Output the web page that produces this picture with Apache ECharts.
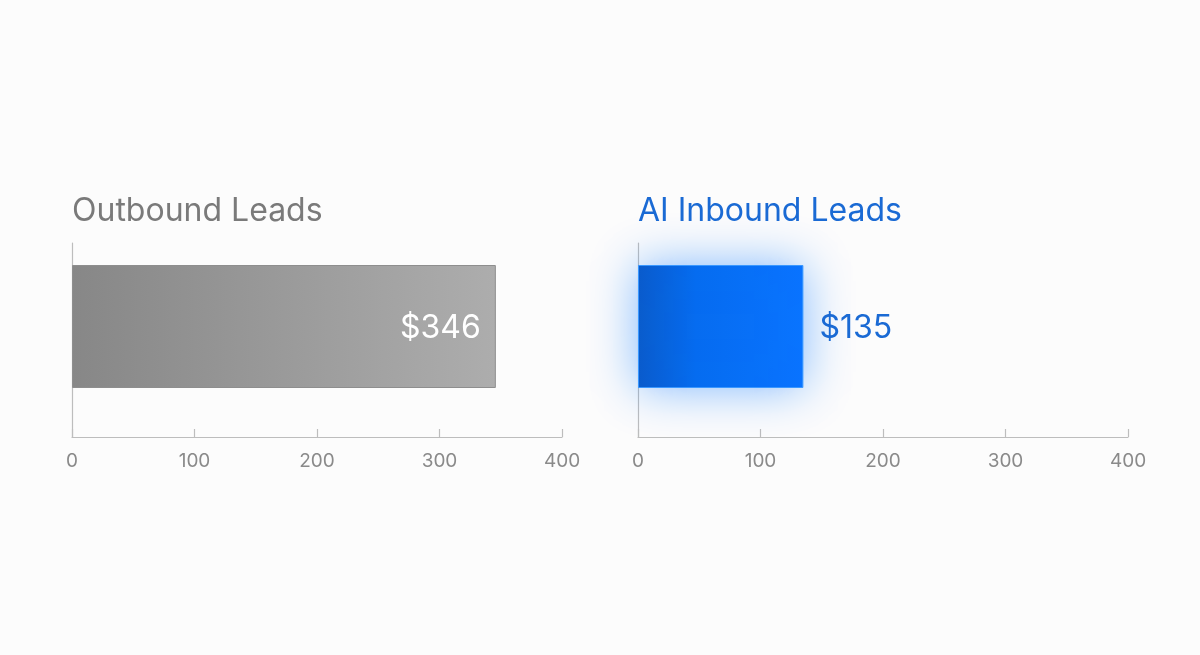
<!DOCTYPE html>
<html>
<head>
<meta charset="utf-8">
<script src="https://cdn.jsdelivr.net/npm/echarts@6/dist/echarts.min.js"></script>
<style>
html,body{margin:0;padding:0;background:#fcfcfc;}
#c{width:1200px;height:655px;}
</style>
</head>
<body>
<div id="c"></div>
<script>
const panelTitles = ['Outbound Leads', 'AI Inbound Leads'];
const costValues = [346, 135];
const axisTicks = [0, 100, 200, 300, 400];
const axisMin = 0, axisMax = 400, axisStep = 100;

const FONT = 'Inter, "Noto Sans", sans-serif';
const chart = echarts.init(document.getElementById('c'), null, {renderer: 'canvas'});

const gridLefts = [72, 638];
const grids = gridLefts.map(l => ({left: l, width: 490, top: 243, height: 194, containLabel: false}));

const xAxes = grids.map((g, i) => ({
  type: 'value', gridIndex: i, min: axisMin, max: axisMax, interval: axisStep,
  axisLine: {show: true, lineStyle: {color: '#bdbdbd', width: 1.2}},
  axisTick: {show: true, inside: true, length: 8, lineStyle: {color: '#bdbdbd', width: 1.2}},
  axisLabel: {color: '#8a8a8a', fontSize: 19, fontFamily: FONT, margin: 15,
    formatter: v => axisTicks.includes(v) ? String(v) : ''},
  splitLine: {show: false}
}));
const yAxes = grids.map((g, i) => ({
  type: 'category', gridIndex: i, data: [panelTitles[i]],
  axisLine: {show: true, lineStyle: {color: '#bdbdbd', width: 1.2}},
  axisTick: {show: false}, axisLabel: {show: false}, splitLine: {show: false}
}));

const styles = [
  {
    color: new echarts.graphic.LinearGradient(0, 0, 1, 0, [
      {offset: 0, color: '#878787'}, {offset: 1, color: '#adadad'}]),
    borderColor: '#8e8e8e', borderWidth: 1
  },
  {
    color: new echarts.graphic.LinearGradient(0, 0, 1, 0, [
      {offset: 0, color: '#0a5ccc'}, {offset: 0.35, color: '#066cf0'}, {offset: 1, color: '#0a74ff'}]),
    borderColor: '#3a98ff', borderWidth: 1,
    shadowColor: 'rgba(30,130,255,0.55)', shadowBlur: 48
  }
];
const labels = [
  {show: true, position: 'insideRight', distance: 15, offset: [0, 2], color: '#ffffff', fontSize: 32, fontFamily: FONT,
    formatter: p => '$' + p.value},
  {show: true, position: 'right', distance: 16, offset: [0, 2], color: '#1a6ad4', fontSize: 32, fontFamily: FONT,
    formatter: p => '$' + p.value}
];

const series = [];
costValues.forEach((v, i) => {
  series.push({
    type: 'bar', xAxisIndex: i, yAxisIndex: i, data: [v], barWidth: 123, barGap: '0%',
    itemStyle: styles[i], label: labels[i], silent: true
  });
  series.push({
    type: 'bar', xAxisIndex: i, yAxisIndex: i, data: [null], barWidth: 27, barGap: '0%', silent: true
  });
});

chart.setOption({
  backgroundColor: '#fcfcfc',
  animation: false,
  title: panelTitles.map((t, i) => ({
    text: t, left: gridLefts[i], top: 195, padding: 0,
    textStyle: {fontFamily: FONT, fontSize: 32, fontWeight: 400, color: i === 0 ? '#7a7a7a' : '#1a6ad4'}
  })),
  grid: grids, xAxis: xAxes, yAxis: yAxes, series: series
});
</script>
</body>
</html>
